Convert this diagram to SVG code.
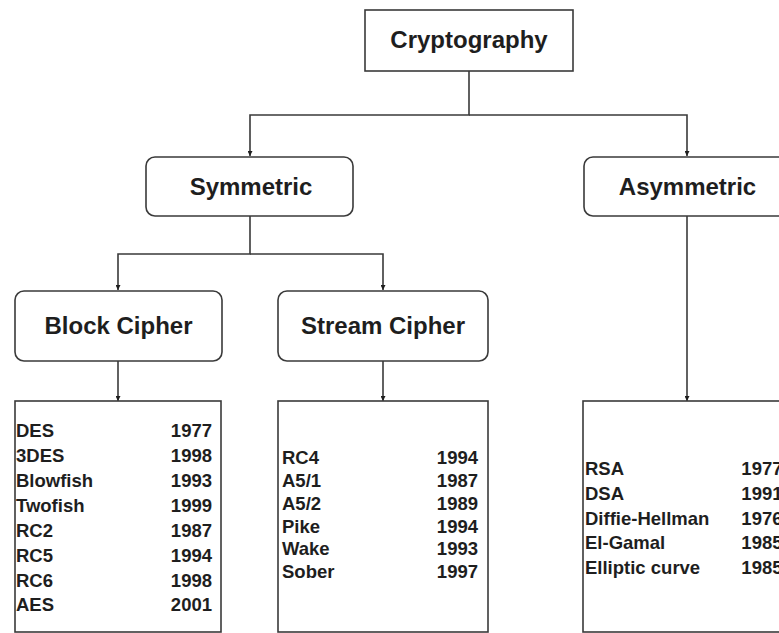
<svg xmlns="http://www.w3.org/2000/svg" width="779" height="633" viewBox="0 0 779 633">
  <defs>
    <style>
      .box { fill: #ffffff; stroke: #3a3a3a; stroke-width: 1.6; }
      .wire { fill: none; stroke: #3a3a3a; stroke-width: 1.6; }
      .head { font-family: "Liberation Sans", Arial, sans-serif; font-weight: bold; font-size: 24px; fill: #1e1e1e; text-anchor: middle; }
      .item { font-family: "Liberation Sans", Arial, sans-serif; font-weight: bold; font-size: 18.5px; fill: #1e1e1e; }
      .year { text-anchor: end; }
    </style>
    <marker id="arrow" viewBox="0 0 10 10" refX="10" refY="5" markerWidth="5" markerHeight="5" orient="auto" markerUnits="userSpaceOnUse">
      <path d="M0,0 L10,5 L0,10 Z" fill="#1e1e1e"/>
    </marker>
  </defs>
  <rect width="779" height="633" fill="#ffffff"/>

  <g id="connectors">
    <path class="wire" d="M469,71 V115 H250 V156" marker-end="url(#arrow)"/>
    <path class="wire" d="M469,115 H687 V156" marker-end="url(#arrow)"/>
    <path class="wire" d="M250,216 V254 H118 V290" marker-end="url(#arrow)"/>
    <path class="wire" d="M250,254 H383 V290" marker-end="url(#arrow)"/>
    <path class="wire" d="M118,361 V401" marker-end="url(#arrow)"/>
    <path class="wire" d="M383,361 V401" marker-end="url(#arrow)"/>
    <path class="wire" d="M687,216 V401" marker-end="url(#arrow)"/>
  </g>

  <g id="cryptography">
    <rect class="box" x="365" y="10" width="208" height="61"/>
    <text class="head" x="469" y="48">Cryptography</text>
  </g>

  <g id="symmetric">
    <rect class="box" x="146" y="157" width="207" height="59" rx="9"/>
    <text class="head" x="251" y="195">Symmetric</text>
  </g>

  <g id="asymmetric">
    <rect class="box" x="584" y="157" width="207" height="59" rx="9"/>
    <text class="head" x="687.5" y="195">Asymmetric</text>
  </g>

  <g id="block-cipher">
    <rect class="box" x="15" y="291" width="207" height="70" rx="9"/>
    <text class="head" x="118.5" y="334">Block Cipher</text>
  </g>

  <g id="stream-cipher">
    <rect class="box" x="278" y="291" width="210" height="70" rx="9"/>
    <text class="head" x="383" y="334">Stream Cipher</text>
  </g>

  <g id="block-list">
    <rect class="box" x="15" y="401" width="206" height="231"/>
    <g class="item">
      <text x="16" y="437">DES</text><text class="year" x="212" y="437">1977</text>
      <text x="16" y="462">3DES</text><text class="year" x="212" y="462">1998</text>
      <text x="16" y="487">Blowfish</text><text class="year" x="212" y="487">1993</text>
      <text x="16" y="512">Twofish</text><text class="year" x="212" y="512">1999</text>
      <text x="16" y="536.5">RC2</text><text class="year" x="212" y="536.5">1987</text>
      <text x="16" y="561.5">RC5</text><text class="year" x="212" y="561.5">1994</text>
      <text x="16" y="586.5">RC6</text><text class="year" x="212" y="586.5">1998</text>
      <text x="16" y="611">AES</text><text class="year" x="212" y="611">2001</text>
    </g>
  </g>

  <g id="stream-list">
    <rect class="box" x="278" y="401" width="210" height="231"/>
    <g class="item">
      <text x="282" y="464">RC4</text><text class="year" x="478" y="464">1994</text>
      <text x="282" y="487">A5/1</text><text class="year" x="478" y="487">1987</text>
      <text x="282" y="509.5">A5/2</text><text class="year" x="478" y="509.5">1989</text>
      <text x="282" y="532.5">Pike</text><text class="year" x="478" y="532.5">1994</text>
      <text x="282" y="555">Wake</text><text class="year" x="478" y="555">1993</text>
      <text x="282" y="578">Sober</text><text class="year" x="478" y="578">1997</text>
    </g>
  </g>

  <g id="asymmetric-list">
    <rect class="box" x="583" y="401" width="208" height="231"/>
    <g class="item">
      <text x="585" y="475">RSA</text><text class="year" x="782.5" y="475">1977</text>
      <text x="585" y="499.5">DSA</text><text class="year" x="782.5" y="499.5">1991</text>
      <text x="585" y="524.5">Diffie-Hellman</text><text class="year" x="782.5" y="524.5">1976</text>
      <text x="585" y="549">El-Gamal</text><text class="year" x="782.5" y="549">1985</text>
      <text x="585" y="574">Elliptic curve</text><text class="year" x="782.5" y="574">1985</text>
    </g>
  </g>
</svg>
